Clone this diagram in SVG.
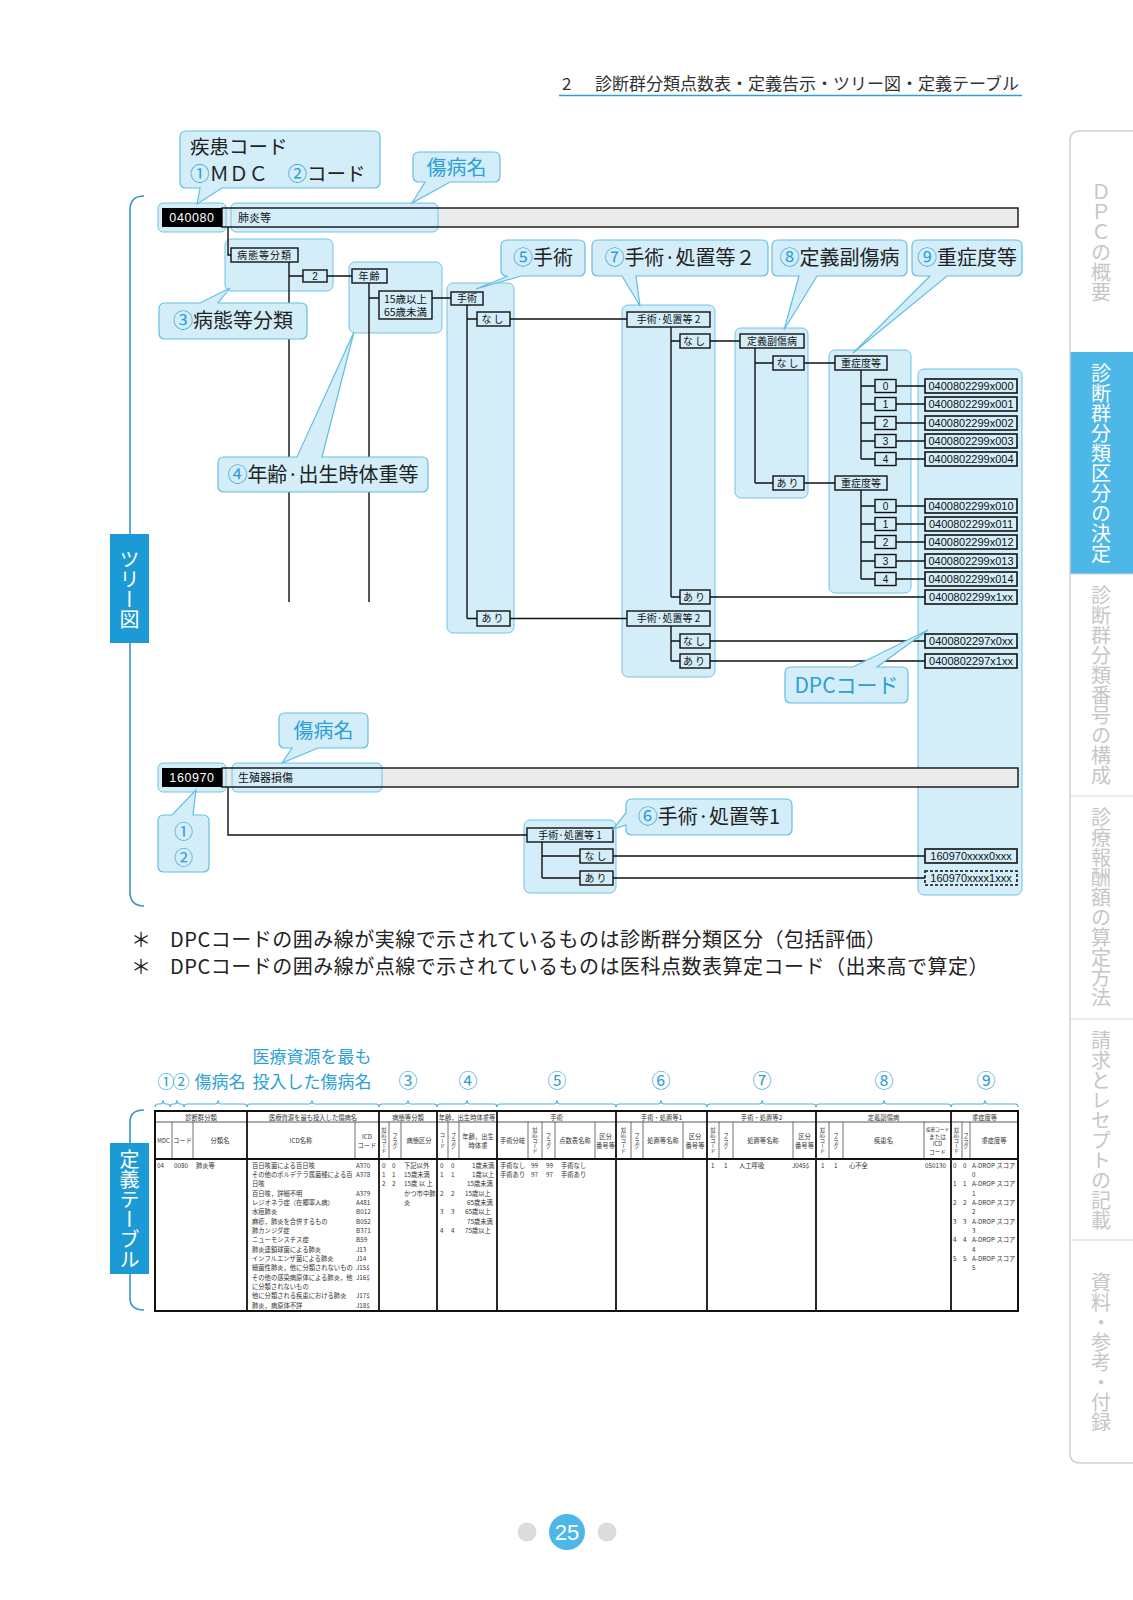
<svg xmlns="http://www.w3.org/2000/svg" width="1133" height="1600" viewBox="0 0 1133 1600">
<defs><style>
.jp{font-family:"Noto Sans CJK JP","Noto Sans CJK SC",sans-serif}
.la{font-family:"Liberation Sans","Noto Sans CJK JP",sans-serif}
.pn{fill:#d3edf9;stroke:#72c3e6;stroke-width:1}
.co{fill:#d3edf9;stroke:#64bde4;stroke-width:1.2}
.bx{fill:#d3edf9;stroke:#111;stroke-width:1.4}
.cb{fill:#d3edf9;stroke:#111;stroke-width:1.6}
.ln{fill:none;stroke:#111;stroke-width:1.4}
.lb{font-size:10px;fill:#111}
.cd{font-size:11px;fill:#111}
.big{font-size:20px;fill:#222}
.bl{fill:#2c9fd6}
.tt{font-size:6.3px;fill:#333}
.vt{writing-mode:vertical-rl;text-orientation:upright}
.br{fill:none;stroke:#4eb0dc;stroke-width:1.1}
</style></defs>
<rect width="1133" height="1600" fill="#fff"/>

<g id="header">
<text x="562" y="90" class="jp" font-size="17" fill="#333">2</text>
<text x="595" y="90" class="jp" font-size="17" fill="#333">診断群分類点数表・定義告示・ツリー図・定義テーブル</text>
<line x1="559" y1="95.5" x2="1022" y2="95.5" stroke="#2e9fcf" stroke-width="1.5"/>
</g>

<g id="side-tabs">
<rect x="1070" y="352" width="63" height="222" fill="#4db8e8"/>
<path d="M1133,131 H1080 Q1070,131 1070,141 V1453 Q1070,1463 1080,1463 H1133" fill="none" stroke="#cfcfcf" stroke-width="1.5"/>
<path d="M1070,574 H1133 M1070,796 H1133 M1070,1019 H1133 M1070,1240 H1133" stroke="#d6d6d6" stroke-width="1"/>
<text class="jp vt" x="1101" y="242" text-anchor="middle" font-size="20" fill="#c6c6c6">ＤＰＣの概要</text>
<text class="jp vt" x="1101" y="463" text-anchor="middle" font-size="20" fill="#fff">診断群分類区分の決定</text>
<text class="jp vt" x="1101" y="685" text-anchor="middle" font-size="20" fill="#c6c6c6">診断群分類番号の構成</text>
<text class="jp vt" x="1101" y="907" text-anchor="middle" font-size="20" fill="#c6c6c6">診療報酬額の算定方法</text>
<text class="jp vt" x="1101" y="1130" text-anchor="middle" font-size="20" fill="#c6c6c6">請求とレセプトの記載</text>
<text class="jp vt" x="1101" y="1352" text-anchor="middle" font-size="20" fill="#c6c6c6">資料・参考・付録</text>
</g>

<g id="tree-bracket">
<path d="M144,196 Q130,196 130,210 V892 Q130,906 144,906" fill="none" stroke="#3a95c8" stroke-width="1.6"/>
<rect x="110" y="534" width="39" height="109" fill="#1b9ad6"/>
<text class="jp vt" x="129.5" y="589" text-anchor="middle" font-size="20" fill="#fff">ツリー図</text>
</g>

<g id="highlights">
<rect class="pn" x="225" y="239" width="108" height="52" rx="6"/>
<rect class="pn" x="349" y="262" width="93" height="71" rx="6"/>
<rect class="pn" x="447" y="283" width="67" height="350" rx="6"/>
<rect class="pn" x="622" y="305" width="93" height="372" rx="6"/>
<rect class="pn" x="735" y="328" width="73" height="170" rx="6"/>
<rect class="pn" x="829" y="350" width="82" height="243" rx="6"/>
<rect class="pn" x="918" y="369" width="104" height="526" rx="6"/>
<rect class="pn" x="524" y="820" width="92" height="73" rx="6"/>
</g>

<g id="row-040080">
<rect x="222" y="208" width="796" height="19" fill="#ebebeb"/>
<rect class="pn" x="158" y="203" width="68" height="29" rx="5"/>
<rect class="pn" x="231" y="203" width="207" height="29" rx="5"/>
<rect x="222" y="208" width="796" height="19" fill="none" stroke="#111" stroke-width="1.4"/>
<rect x="162" y="208" width="60" height="19" fill="#000"/>
<text x="192" y="222" class="la" font-size="12.5" fill="#fff" text-anchor="middle" letter-spacing="0.6">040080</text>
<text x="238" y="222" class="jp" font-size="11" fill="#111">肺炎等</text>
</g>

<g id="row-160970">
<rect x="222" y="768" width="796" height="19" fill="#ebebeb"/>
<rect class="pn" x="158" y="763" width="68" height="29" rx="5"/>
<rect class="pn" x="232" y="763" width="150" height="29" rx="5"/>
<rect x="222" y="768" width="796" height="19" fill="none" stroke="#111" stroke-width="1.4"/>
<rect x="162" y="768" width="60" height="19" fill="#000"/>
<text x="192" y="782" class="la" font-size="12.5" fill="#fff" text-anchor="middle" letter-spacing="0.6">160970</text>
<text x="238" y="782" class="jp" font-size="11" fill="#111">生殖器損傷</text>
</g>

<g id="connectors" class="ln">
<path d="M228,227 V255 H231"/>
<path d="M289,262 V602 M289,276 H303 M327,276 H352"/>
<path d="M369,283 V602 M369,298 H379 M432,298 H451"/>
<path d="M467,305 V618.5 M467,319 H477 M467,618.5 H477 M510,319 H627 M510,618.5 H627"/>
<path d="M671,327 V597 M671,341 H680 M671,597 H680 M710,341 H740 M710,597 H925"/>
<path d="M671,626 V661 M671,641 H680 M671,661 H680 M710,641 H925 M710,661 H925"/>
<path d="M755,348 V483 M755,363 H773 M755,483 H773 M804,363 H835 M804,483 H835"/>
<path d="M861,370 V459 M861,386 H875 M861,404 H875 M861,423 H875 M861,441 H875 M861,459 H875"/>
<path d="M896,386 H925 M896,404 H925 M896,423 H925 M896,441 H925 M896,459 H925"/>
<path d="M861,490 V579 M861,506 H875 M861,524 H875 M861,542 H875 M861,561 H875 M861,579 H875"/>
<path d="M896,506 H925 M896,524 H925 M896,542 H925 M896,561 H925 M896,579 H925"/>
<path d="M228,787 V835 H527"/>
<path d="M542,842 V878 M542,856 H580 M542,878 H580 M613,856 H925 M613,878 H925"/>
</g>

<g id="n-byotai" class="jp lb"><rect class="bx" x="231" y="248" width="67" height="14"/><text x="264.5" y="259" text-anchor="middle" letter-spacing="1">病態等分類</text></g>
<g id="n-2"><rect class="bx" x="303" y="270" width="24" height="12"/><text x="315" y="280" class="la lb" text-anchor="middle">2</text></g>
<g id="n-nenrei" class="jp lb"><rect class="bx" x="352" y="269" width="35" height="14"/><text x="369.5" y="280" text-anchor="middle" letter-spacing="1">年齢</text></g>
<g id="n-age" class="jp"><rect class="bx" x="379" y="291" width="53" height="28"/><text x="405.5" y="303" text-anchor="middle" font-size="10.5" fill="#111">15歳以上</text><text x="405.5" y="316" text-anchor="middle" font-size="10.5" fill="#111">65歳未満</text></g>
<g id="n-shujutsu" class="jp lb"><rect class="bx" x="451" y="292" width="32" height="13"/><text x="467" y="302" text-anchor="middle">手術</text></g>
<g id="n-s-nashi" class="jp lb"><rect class="bx" x="477" y="312" width="33" height="14"/><text x="493.5" y="323" text-anchor="middle" letter-spacing="2">なし</text></g>
<g id="n-s-ari" class="jp lb"><rect class="bx" x="477" y="611" width="33" height="15"/><text x="493.5" y="622" text-anchor="middle" letter-spacing="2">あり</text></g>
<g id="n-sh2a" class="jp lb"><rect class="bx" x="627" y="312" width="83" height="15"/><text x="668.5" y="323" text-anchor="middle">手術·処置等 2</text></g>
<g id="n-sh2a-nashi" class="jp lb"><rect class="bx" x="680" y="334" width="30" height="14"/><text x="695" y="345" text-anchor="middle" letter-spacing="2">なし</text></g>
<g id="n-sh2a-ari" class="jp lb"><rect class="bx" x="680" y="590" width="30" height="14"/><text x="695" y="601" text-anchor="middle" letter-spacing="2">あり</text></g>
<g id="n-sh2b" class="jp lb"><rect class="bx" x="627" y="611" width="83" height="15"/><text x="668.5" y="622" text-anchor="middle">手術·処置等 2</text></g>
<g id="n-sh2b-nashi" class="jp lb"><rect class="bx" x="680" y="634" width="30" height="14"/><text x="695" y="645" text-anchor="middle" letter-spacing="2">なし</text></g>
<g id="n-sh2b-ari" class="jp lb"><rect class="bx" x="680" y="654" width="30" height="14"/><text x="695" y="665" text-anchor="middle" letter-spacing="2">あり</text></g>
<g id="n-fuku" class="jp lb"><rect class="bx" x="740" y="334" width="64" height="14"/><text x="772" y="345" text-anchor="middle">定義副傷病</text></g>
<g id="n-fuku-nashi" class="jp lb"><rect class="bx" x="773" y="356" width="31" height="14"/><text x="788.5" y="367" text-anchor="middle" letter-spacing="2">なし</text></g>
<g id="n-fuku-ari" class="jp lb"><rect class="bx" x="773" y="476" width="31" height="14"/><text x="788.5" y="487" text-anchor="middle" letter-spacing="2">あり</text></g>
<g id="n-ju1" class="jp lb"><rect class="bx" x="835" y="356" width="52" height="14"/><text x="861" y="367" text-anchor="middle">重症度等</text></g>
<g id="n-ju2" class="jp lb"><rect class="bx" x="835" y="476" width="52" height="14"/><text x="861" y="487" text-anchor="middle">重症度等</text></g>

<g id="n-ju-values" class="la lb">
<rect class="bx" x="875" y="379.5" width="21" height="13"/><text x="885.5" y="389.5" text-anchor="middle">0</text>
<rect class="bx" x="875" y="397.5" width="21" height="13"/><text x="885.5" y="407.5" text-anchor="middle">1</text>
<rect class="bx" x="875" y="416.5" width="21" height="13"/><text x="885.5" y="426.5" text-anchor="middle">2</text>
<rect class="bx" x="875" y="434.5" width="21" height="13"/><text x="885.5" y="444.5" text-anchor="middle">3</text>
<rect class="bx" x="875" y="452.5" width="21" height="13"/><text x="885.5" y="462.5" text-anchor="middle">4</text>
<rect class="bx" x="875" y="499.5" width="21" height="13"/><text x="885.5" y="509.5" text-anchor="middle">0</text>
<rect class="bx" x="875" y="517.5" width="21" height="13"/><text x="885.5" y="527.5" text-anchor="middle">1</text>
<rect class="bx" x="875" y="535.5" width="21" height="13"/><text x="885.5" y="545.5" text-anchor="middle">2</text>
<rect class="bx" x="875" y="554.5" width="21" height="13"/><text x="885.5" y="564.5" text-anchor="middle">3</text>
<rect class="bx" x="875" y="572.5" width="21" height="13"/><text x="885.5" y="582.5" text-anchor="middle">4</text>
</g>

<g id="n-sh1" class="jp lb"><rect class="bx" x="527" y="828" width="86" height="14"/><text x="570" y="839" text-anchor="middle">手術·処置等 1</text></g>
<g id="n-sh1-nashi" class="jp lb"><rect class="bx" x="580" y="849" width="33" height="14"/><text x="596.5" y="860" text-anchor="middle" letter-spacing="2">なし</text></g>
<g id="n-sh1-ari" class="jp lb"><rect class="bx" x="580" y="871" width="33" height="14"/><text x="596.5" y="882" text-anchor="middle" letter-spacing="2">あり</text></g>

<g id="dpc-codes" class="la cd">
<rect class="cb" x="925" y="379" width="92" height="14"/><text x="971" y="390" text-anchor="middle">0400802299x000</text>
<rect class="cb" x="925" y="397" width="92" height="14"/><text x="971" y="408" text-anchor="middle">0400802299x001</text>
<rect class="cb" x="925" y="416" width="92" height="14"/><text x="971" y="427" text-anchor="middle">0400802299x002</text>
<rect class="cb" x="925" y="434" width="92" height="14"/><text x="971" y="445" text-anchor="middle">0400802299x003</text>
<rect class="cb" x="925" y="452" width="92" height="14"/><text x="971" y="463" text-anchor="middle">0400802299x004</text>
<rect class="cb" x="925" y="499" width="92" height="14"/><text x="971" y="510" text-anchor="middle">0400802299x010</text>
<rect class="cb" x="925" y="517" width="92" height="14"/><text x="971" y="528" text-anchor="middle">0400802299x011</text>
<rect class="cb" x="925" y="535" width="92" height="14"/><text x="971" y="546" text-anchor="middle">0400802299x012</text>
<rect class="cb" x="925" y="554" width="92" height="14"/><text x="971" y="565" text-anchor="middle">0400802299x013</text>
<rect class="cb" x="925" y="572" width="92" height="14"/><text x="971" y="583" text-anchor="middle">0400802299x014</text>
<rect class="cb" x="925" y="590" width="92" height="14"/><text x="971" y="601" text-anchor="middle">0400802299x1xx</text>
<rect class="cb" x="925" y="634" width="92" height="14"/><text x="971" y="645" text-anchor="middle">0400802297x0xx</text>
<rect class="cb" x="925" y="654" width="92" height="14"/><text x="971" y="665" text-anchor="middle">0400802297x1xx</text>
<rect class="cb" x="925" y="849" width="92" height="14"/><text x="971" y="860" text-anchor="middle">160970xxxx0xxx</text>
<rect class="cb" x="925" y="871" width="92" height="14" stroke-dasharray="3,2"/><text x="971" y="882" text-anchor="middle">160970xxxx1xxx</text>
</g>

<g id="callouts" class="jp big">
<g id="c-shikkan"><path class="co" d="M186,131 H374 Q380,131 380,137 V182 Q380,188 374,188 H222 L197,204 L200,188 H186 Q180,188 180,182 V137 Q180,131 186,131 Z"/>
<text x="190" y="154" font-size="19.5">疾患コード</text><text x="190" y="181" font-size="19.5"><tspan class="bl">①</tspan>ＭＤＣ　<tspan class="bl">②</tspan>コード</text></g>
<g id="c-shobyo1"><path class="co" d="M419,152 H494 Q500,152 500,158 V176 Q500,182 494,182 H450 L412,203 L425,182 H419 Q413,182 413,176 V158 Q413,152 419,152 Z"/>
<text x="456.5" y="175" text-anchor="middle" class="bl">傷病名</text></g>
<g id="c-3"><path class="co" d="M165,303 H200 L230,288 L218,303 H301 Q307,303 307,309 V333 Q307,339 301,339 H165 Q159,339 159,333 V309 Q159,303 165,303 Z"/>
<text x="233" y="328" text-anchor="middle"><tspan class="bl">③</tspan>病態等分類</text></g>
<g id="c-4"><path class="co" d="M224,457 H297 L354,332 L322,457 H422 Q428,457 428,463 V486 Q428,492 422,492 H224 Q218,492 218,486 V463 Q218,457 224,457 Z"/>
<text x="323" y="482" text-anchor="middle"><tspan class="bl">④</tspan>年齢·出生時体重等</text></g>
<g id="c-5"><path class="co" d="M507,240 H579 Q585,240 585,246 V270 Q585,276 579,276 H521 L476,289 L508,276 H507 Q501,276 501,270 V246 Q501,240 507,240 Z"/>
<text x="543" y="265" text-anchor="middle"><tspan class="bl">⑤</tspan>手術</text></g>
<g id="c-7"><path class="co" d="M598,240 H762 Q768,240 768,246 V270 Q768,276 762,276 H636 L640,306 L622,276 H598 Q592,276 592,270 V246 Q592,240 598,240 Z"/>
<text x="680" y="265" text-anchor="middle"><tspan class="bl">⑦</tspan>手術·処置等２</text></g>
<g id="c-8"><path class="co" d="M778,240 H901 Q907,240 907,246 V270 Q907,276 901,276 H817 L784,330 L799,276 H778 Q772,276 772,270 V246 Q772,240 778,240 Z"/>
<text x="839.5" y="265" text-anchor="middle"><tspan class="bl">⑧</tspan>定義副傷病</text></g>
<g id="c-9"><path class="co" d="M918,240 H1016 Q1022,240 1022,246 V270 Q1022,276 1016,276 H947 L853,353 L930,276 H918 Q912,276 912,270 V246 Q912,240 918,240 Z"/>
<text x="967" y="265" text-anchor="middle"><tspan class="bl">⑨</tspan>重症度等</text></g>
<g id="c-dpc"><path class="co" d="M791,667 H853 L928,630 L877,667 H902 Q908,667 908,673 V697 Q908,703 902,703 H791 Q785,703 785,697 V673 Q785,667 791,667 Z"/>
<text x="846.5" y="693" text-anchor="middle" class="bl" font-size="21">DPCコード</text></g>
<g id="c-shobyo2"><path class="co" d="M285,713 H362 Q368,713 368,719 V742 Q368,748 362,748 H318 L282,763 L292,748 H285 Q279,748 279,742 V719 Q279,713 285,713 Z"/>
<text x="323.5" y="738" text-anchor="middle" class="bl">傷病名</text></g>
<g id="c-12"><path class="co" d="M164,815 H172 L196,790 L193,815 H203 Q209,815 209,821 V866 Q209,872 203,872 H164 Q158,872 158,866 V821 Q158,815 164,815 Z"/>
<text x="183.5" y="839" text-anchor="middle" class="bl" font-size="19">①</text><text x="183.5" y="865" text-anchor="middle" class="bl" font-size="19">②</text></g>
<g id="c-6"><path class="co" d="M632,799 H786 Q792,799 792,805 V829 Q792,835 786,835 H632 Q626,835 626,829 V825 L613,829 L626,813 V805 Q626,799 632,799 Z"/>
<text x="709" y="824" text-anchor="middle"><tspan class="bl">⑥</tspan>手術·処置等1</text></g>
</g>

<g id="notes" class="jp" font-size="20" fill="#222">
<text x="131" y="947">＊</text><text x="170" y="947" letter-spacing="0.5">DPCコードの囲み線が実線で示されているものは診断群分類区分（包括評価）</text>
<text x="131" y="974">＊</text><text x="170" y="974" letter-spacing="0.5">DPCコードの囲み線が点線で示されているものは医科点数表算定コード（出来高で算定）</text>
</g>

<g id="table-labels" class="jp bl">
<text x="166" y="1088" font-size="17" text-anchor="middle">①</text>
<text x="181" y="1088" font-size="17" text-anchor="middle">②</text>
<text x="220" y="1088" font-size="17" text-anchor="middle">傷病名</text>
<text x="312" y="1063" font-size="17" text-anchor="middle">医療資源を最も</text>
<text x="312" y="1088" font-size="17" text-anchor="middle">投入した傷病名</text>
<text x="408" y="1088" font-size="19" text-anchor="middle">③</text>
<text x="468" y="1088" font-size="19" text-anchor="middle">④</text>
<text x="557" y="1088" font-size="19" text-anchor="middle">⑤</text>
<text x="661" y="1088" font-size="19" text-anchor="middle">⑥</text>
<text x="762" y="1088" font-size="19" text-anchor="middle">⑦</text>
<text x="884" y="1088" font-size="19" text-anchor="middle">⑧</text>
<text x="986" y="1088" font-size="19" text-anchor="middle">⑨</text>
</g>
<g id="table-braces" class="br">
<path d="M155,1107 Q155,1104 158,1104 H160 Q163,1104 163,1100 Q163,1104 166,1104 H167 Q170,1104 170,1107"/>
<path d="M170,1107 Q170,1104 173,1104 H174 Q177,1104 177,1100 Q177,1104 180,1104 H181 Q184,1104 184,1107"/>
<path d="M184,1107 Q184,1104 187,1104 H215 Q218,1104 218,1100 Q218,1104 221,1104 H244 Q247,1104 247,1107"/>
<path d="M247,1107 Q247,1104 250,1104 H309 Q312,1104 312,1100 Q312,1104 315,1104 H376 Q379,1104 379,1107"/>
<path d="M379,1107 Q379,1104 382,1104 H405 Q408,1104 408,1100 Q408,1104 411,1104 H434 Q437,1104 437,1107"/>
<path d="M437,1107 Q437,1104 440,1104 H464 Q467,1104 467,1100 Q467,1104 470,1104 H494 Q497,1104 497,1107"/>
<path d="M497,1107 Q497,1104 500,1104 H554 Q557,1104 557,1100 Q557,1104 560,1104 H613 Q616,1104 616,1107"/>
<path d="M616,1107 Q616,1104 619,1104 H658 Q661,1104 661,1100 Q661,1104 664,1104 H704 Q707,1104 707,1107"/>
<path d="M707,1107 Q707,1104 710,1104 H759 Q762,1104 762,1100 Q762,1104 765,1104 H813 Q816,1104 816,1107"/>
<path d="M816,1107 Q816,1104 819,1104 H881 Q884,1104 884,1100 Q884,1104 887,1104 H948 Q951,1104 951,1107"/>
<path d="M951,1107 Q951,1104 954,1104 H982 Q985,1104 985,1100 Q985,1104 988,1104 H1015 Q1018,1104 1018,1107"/>
</g>

<g id="table-bracket">
<path d="M144,1110 Q130,1110 130,1122 V1298 Q130,1310 144,1310" fill="none" stroke="#3a95c8" stroke-width="1.6"/>
<rect x="110" y="1143" width="39" height="131" fill="#1b9ad6"/>
<text class="jp vt" x="129.5" y="1209" text-anchor="middle" font-size="20" fill="#fff">定義テーブル</text>
</g>

<g id="definition-table">
<rect x="155" y="1111" width="863" height="200" fill="#fff" stroke="#111" stroke-width="2"/>
<path d="M155,1122 H1018" stroke="#111" stroke-width="0.7"/>
<path d="M155,1159 H1018" stroke="#111" stroke-width="1.8"/>
<path d="M247,1111V1311 M379,1111V1311 M437,1111V1311 M497,1111V1311 M616,1111V1311 M707,1111V1311 M816,1111V1311 M951,1111V1311" stroke="#111" stroke-width="1.8"/>
<path d="M172,1122V1159 M193,1122V1159 M355,1122V1159 M389,1122V1159 M401,1122V1159 M448,1122V1159 M459,1122V1159 M528,1122V1159 M542,1122V1159 M555,1122V1159 M595,1122V1159 M631,1122V1159 M643,1122V1159 M683,1122V1159 M719,1122V1159 M733,1122V1159 M793,1122V1159 M829,1122V1159 M843,1122V1159 M924,1122V1159 M962,1122V1159 M970,1122V1159" stroke="#111" stroke-width="0.6"/>
<g class="jp tt" text-anchor="middle">
<text x="201" y="1119.5">診断群分類</text>
<text x="313" y="1119.5">医療資源を最も投入した傷病名</text>
<text x="408" y="1119.5">病態等分類</text>
<text x="467" y="1119.5">年齢，出生時体重等</text>
<text x="556.5" y="1119.5">手術</text>
<text x="661.5" y="1119.5">手術・処置等1</text>
<text x="761.5" y="1119.5">手術・処置等2</text>
<text x="883.5" y="1119.5">定義副傷病</text>
<text x="984.5" y="1119.5">重症度等</text>
<text x="163.5" y="1143" font-size="5.8">MDC</text>
<text x="182.5" y="1143">コード</text>
<text x="220" y="1143">分類名</text>
<text x="301" y="1143">ICD名称</text>
<text x="367" y="1139">ICD</text><text x="367" y="1148">コード</text>
<text x="419" y="1143">病態区分</text>
<text x="478" y="1139">年齢，出生</text><text x="478" y="1148">時体重</text>
<text x="512.5" y="1143">手術分岐</text>
<text x="575" y="1143">点数表名称</text>
<text x="605.5" y="1139">区分</text><text x="605.5" y="1148">番号等</text>
<text x="663" y="1143">処置等名称</text>
<text x="695" y="1139">区分</text><text x="695" y="1148">番号等</text>
<text x="763" y="1143">処置等名称</text>
<text x="804.5" y="1139">区分</text><text x="804.5" y="1148">番号等</text>
<text x="883.5" y="1143">疾患名</text>
<text x="937.5" y="1131" font-size="4.6">疾患コード</text><text x="937.5" y="1138.5" font-size="5.6">または</text><text x="937.5" y="1146" font-size="5.6">ICD</text><text x="937.5" y="1153.5" font-size="5.6">コード</text>
<text x="994" y="1143">重症度等</text>
</g>
<g class="jp vt" font-size="5.4" fill="#333" text-anchor="middle">
<text x="384" y="1140.5">対応コード</text><text x="395" y="1140.5">フラグ</text>
<text x="442.5" y="1140.5">コード</text><text x="453.5" y="1140.5">フラグ</text>
<text x="535" y="1140.5">対応コード</text><text x="548.5" y="1140.5">フラグ</text>
<text x="623.5" y="1140.5">対応コード</text><text x="637" y="1140.5">フラグ</text>
<text x="713" y="1140.5">対応コード</text><text x="726" y="1140.5">フラグ</text>
<text x="822.5" y="1140.5">対応コード</text><text x="836" y="1140.5">フラグ</text>
<text x="956.5" y="1140.5">対応コード</text><text x="966" y="1140.5">フラグ</text>
</g>
<g class="jp tt">
<text x="157" y="1167.5">04</text><text x="174" y="1167.5">0080</text><text x="196" y="1167.5">肺炎等</text>
<text x="252" y="1167.5">百日咳菌による百日咳</text><text x="356" y="1167.5">A370</text>
<text x="252" y="1176.8">その他のボルデテラ属菌種による百</text><text x="356" y="1176.8">A378</text>
<text x="252" y="1186.2">日咳</text>
<text x="252" y="1195.5">百日咳，詳細不明</text><text x="356" y="1195.5">A379</text>
<text x="252" y="1204.8">レジオネラ症（在郷軍人病）</text><text x="356" y="1204.8">A481</text>
<text x="252" y="1214.2">水痘肺炎</text><text x="356" y="1214.2">B012</text>
<text x="252" y="1223.5">麻疹，肺炎を合併するもの</text><text x="356" y="1223.5">B052</text>
<text x="252" y="1232.8">肺カンジダ症</text><text x="356" y="1232.8">B371</text>
<text x="252" y="1242.1">ニューモシスチス症</text><text x="356" y="1242.1">B59</text>
<text x="252" y="1251.5">肺炎連鎖球菌による肺炎</text><text x="356" y="1251.5">J13</text>
<text x="252" y="1260.8">インフルエンザ菌による肺炎</text><text x="356" y="1260.8">J14</text>
<text x="252" y="1270.1">細菌性肺炎，他に分類されないもの</text><text x="356" y="1270.1">J15$</text>
<text x="252" y="1279.5">その他の感染病原体による肺炎，他</text><text x="356" y="1279.5">J16$</text>
<text x="252" y="1288.8">に分類されないもの</text>
<text x="252" y="1298.1">他に分類される疾患における肺炎</text><text x="356" y="1298.1">J17$</text>
<text x="252" y="1307.5">肺炎，病原体不詳</text><text x="356" y="1307.5">J18$</text>
<text x="382" y="1167.5">0</text><text x="392" y="1167.5">0</text><text x="404" y="1167.5">下記以外</text>
<text x="382" y="1176.8">1</text><text x="392" y="1176.8">1</text><text x="404" y="1176.8">15歳未満</text>
<text x="382" y="1186.2">2</text><text x="392" y="1186.2">2</text><text x="404" y="1186.2">15歳 以 上</text>
<text x="404" y="1195.5">かつ市中肺</text>
<text x="404" y="1204.8">炎</text>
<text x="440" y="1167.5">0</text><text x="451" y="1167.5">0</text><text x="472" y="1167.5">1歳未満</text>
<text x="440" y="1176.8">1</text><text x="451" y="1176.8">1</text><text x="472" y="1176.8">1歳以上</text>
<text x="467" y="1186.2">15歳未満</text>
<text x="440" y="1195.5">2</text><text x="451" y="1195.5">2</text><text x="465" y="1195.5">15歳以上</text>
<text x="467" y="1204.8">65歳未満</text>
<text x="440" y="1214.2">3</text><text x="451" y="1214.2">3</text><text x="465" y="1214.2">65歳以上</text>
<text x="467" y="1223.5">75歳未満</text>
<text x="440" y="1232.8">4</text><text x="451" y="1232.8">4</text><text x="465" y="1232.8">75歳以上</text>
<text x="500" y="1167.5">手術なし</text><text x="531" y="1167.5">99</text><text x="546" y="1167.5">99</text><text x="561" y="1167.5">手術なし</text>
<text x="500" y="1176.8">手術あり</text><text x="531" y="1176.8">97</text><text x="546" y="1176.8">97</text><text x="561" y="1176.8">手術あり</text>
<text x="711" y="1167.5">1</text><text x="724" y="1167.5">1</text><text x="739" y="1167.5">人工呼吸</text><text x="792" y="1167.5">J045$</text>
<text x="821" y="1167.5">1</text><text x="834" y="1167.5">1</text><text x="849" y="1167.5">心不全</text><text x="925" y="1167.5">050130</text>
<text x="953" y="1167.5">0</text><text x="963" y="1167.5">0</text><text x="972" y="1167.5">A-DROP スコア</text><text x="972" y="1176.8">0</text>
<text x="953" y="1186.2">1</text><text x="963" y="1186.2">1</text><text x="972" y="1186.2">A-DROP スコア</text><text x="972" y="1195.5">1</text>
<text x="953" y="1204.8">2</text><text x="963" y="1204.8">2</text><text x="972" y="1204.8">A-DROP スコア</text><text x="972" y="1214.2">2</text>
<text x="953" y="1223.5">3</text><text x="963" y="1223.5">3</text><text x="972" y="1223.5">A-DROP スコア</text><text x="972" y="1232.8">3</text>
<text x="953" y="1242.1">4</text><text x="963" y="1242.1">4</text><text x="972" y="1242.1">A-DROP スコア</text><text x="972" y="1251.5">4</text>
<text x="953" y="1260.8">5</text><text x="963" y="1260.8">5</text><text x="972" y="1260.8">A-DROP スコア</text><text x="972" y="1270.1">5</text>
</g>
</g>

<g id="page-number">
<circle cx="527" cy="1532" r="9.5" fill="#dcdcdc"/>
<circle cx="607" cy="1532" r="9.5" fill="#dcdcdc"/>
<circle cx="567" cy="1532" r="18" fill="#4db8e8"/>
<text x="567" y="1540" text-anchor="middle" class="la" font-size="22" fill="#fff">25</text>
</g>
</svg>
